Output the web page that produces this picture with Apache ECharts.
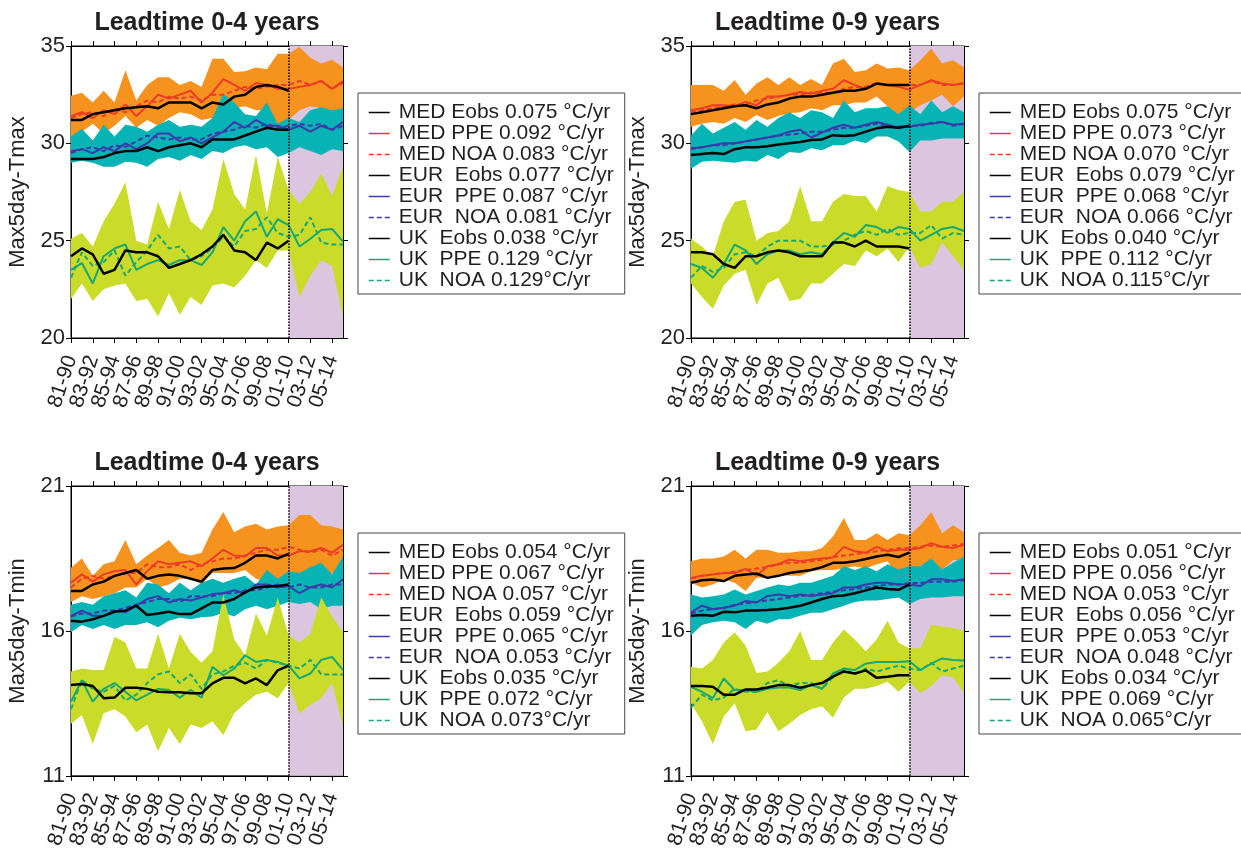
<!DOCTYPE html>
<html>
<head>
<meta charset="utf-8">
<script src="https://cdn.jsdelivr.net/npm/echarts@6/dist/echarts.min.js"></script>
<style>
  html, body { margin: 0; padding: 0; background: #ffffff; }
  #chart { width: 1241px; height: 851px; }
</style>
</head>
<body>
<div id="chart"></div>
<script>
// Decadal windows (start year - end year)
const years = ['81-90','82-91','83-92','84-93','85-94','86-95','87-96','88-97','89-98','90-99',
               '91-00','92-01','93-02','94-03','95-04','96-05','97-06','98-07','99-08','00-09',
               '01-10','02-11','03-12','04-13','05-14','06-15'];

// ---- Max5day-Tmax, leadtime 0-4 years ----
const tmax04MedLo  = [30.2,30.6,31.0,30.5,30.9,31.4,30.8,31.2,30.9,31.3,31.6,31.5,31.2,31.3,31.0,31.8,31.9,31.7,31.7,30.5,31.2,31.7,31.9,31.8,31.5,31.7];
const tmax04MedHi  = [32.45,32.6,32.1,32.7,32.1,33.75,32.2,33.0,33.4,33.4,33.0,33.2,32.9,34.35,34.35,33.67,33.7,33.9,33.8,34.6,34.6,34.95,34.4,34.1,34.3,33.9];
const tmax04MedPpe = [31.4,31.6,31.3,31.7,31.5,32.0,31.4,31.9,32.5,32.3,32.5,32.7,32.1,32.6,33.3,33.0,32.7,33.1,33.0,32.8,32.8,32.9,33.0,33.2,32.8,33.2];
const tmax04MedNoa = [31.3,31.5,31.6,31.4,31.8,31.6,31.9,32.2,32.1,32.4,32.3,32.4,32.2,32.5,32.5,32.7,32.9,32.8,32.9,33.0,33.0,33.2,33.0,33.2,32.8,33.1];
const tmax04MedObs = [31.2,31.2,31.5,31.6,31.7,31.8,31.85,31.9,31.8,32.1,32.1,32.1,31.8,32.1,32.0,32.4,32.5,32.9,33.0,32.9,32.7];
const tmax04EurLo  = [29.0,29.1,29.0,28.8,28.8,29.05,29.0,28.8,29.2,29.3,29.1,29.4,29.2,29.6,29.5,29.8,29.9,29.7,29.8,29.3,29.5,29.8,29.6,29.4,29.7,29.6];
const tmax04EurHi  = [30.35,30.75,30.15,30.95,30.35,30.95,30.85,30.6,30.95,31.2,30.85,30.95,30.85,31.3,32.55,32.1,31.5,31.4,32.1,31.0,31.3,31.1,31.7,31.85,31.7,31.8];
const tmax04EurPpe = [29.6,29.7,29.5,29.8,29.6,30.0,29.7,30.0,30.5,30.5,30.1,30.3,30.0,30.3,30.6,31.1,30.8,31.2,30.9,30.9,30.7,30.9,30.6,30.9,30.7,31.1];
const tmax04EurNoa = [29.5,29.7,29.8,29.6,29.9,29.8,30.1,30.4,30.3,30.2,30.3,30.2,30.2,30.5,30.6,30.7,30.9,30.8,31.0,30.8,30.9,31.0,30.9,31.0,30.7,30.9];
const tmax04EurObs = [29.2,29.2,29.2,29.3,29.5,29.6,29.6,29.8,29.6,29.8,29.9,30.0,29.8,30.2,30.2,30.2,30.4,30.6,30.8,30.7,30.7];
const tmax04UkLo   = [22.0,22.8,21.9,22.5,22.7,22.8,21.9,22.0,21.1,22.3,21.2,22.1,21.7,22.7,22.8,22.6,23.2,24.0,23.6,24.5,24.5,22.1,23.2,24.0,23.7,21.1];
const tmax04UkHi   = [25.1,25.4,24.7,26.0,26.9,28.0,25.0,24.8,27.0,25.6,27.6,26.0,25.55,26.6,29.2,27.4,26.6,29.4,26.4,29.3,27.6,26.9,27.5,28.45,27.3,28.8];
const tmax04UkPpe  = [23.5,23.85,22.8,24.2,24.6,24.8,23.5,23.8,24.0,23.75,24.0,24.0,23.75,24.4,25.7,25.0,26.0,26.5,25.2,26.1,25.8,24.7,25.1,25.55,25.6,24.95];
const tmax04UkNoa  = [23.1,24.4,23.7,23.9,24.5,23.2,23.9,24.5,25.3,24.6,24.7,24.0,24.2,24.6,25.2,24.7,25.5,25.6,26.2,25.4,25.2,25.3,26.2,24.9,24.8,24.8];
const tmax04UkObs  = [24.2,24.6,24.3,23.3,23.5,24.5,24.4,24.4,24.2,23.6,23.8,24.0,24.3,24.7,25.3,24.5,24.4,24.0,24.9,24.6,25.0];
const tmax04Trends = ['MED Eobs 0.075 °C/yr','MED PPE 0.092 °C/yr','MED NOA 0.083 °C/yr',
                      'EUR  Eobs 0.077 °C/yr','EUR  PPE 0.087 °C/yr','EUR  NOA 0.081 °C/yr',
                      'UK  Eobs 0.038 °C/yr','UK  PPE 0.129 °C/yr','UK  NOA 0.129°C/yr'];

// ---- Max5day-Tmax, leadtime 0-9 years ----
const tmax09MedLo  = [30.85,31.0,31.1,31.0,31.3,31.1,31.45,31.2,31.4,31.55,31.6,31.8,31.7,31.96,31.96,32.1,32.1,32.4,31.9,31.2,31.6,31.96,32.2,32.5,31.9,32.4];
const tmax09MedHi  = [33.0,33.0,33.0,32.7,33.25,32.5,33.07,33.4,33.0,33.4,33.0,33.3,33.0,34.1,34.35,33.67,33.75,34.1,33.85,33.9,33.75,34.27,34.86,34.1,34.27,33.9];
const tmax09MedPpe = [31.7,31.8,31.96,31.96,31.9,32.13,31.96,32.4,32.4,32.5,32.64,32.55,32.7,32.8,33.24,33.0,32.8,33.07,33.0,32.9,32.76,33.0,33.24,33.07,33.0,33.07];
const tmax09MedNoa = [31.6,31.7,31.8,31.9,32.0,32.0,32.2,32.3,32.4,32.5,32.5,32.6,32.6,32.6,32.8,32.9,32.9,33.1,33.0,33.0,33.0,33.0,33.2,33.0,33.0,33.1];
const tmax09MedObs = [31.5,31.6,31.7,31.8,31.9,31.96,31.8,32.0,32.1,32.3,32.4,32.4,32.5,32.6,32.7,32.7,32.8,33.07,33.0,33.0,33.0];
const tmax09EurLo  = [28.7,29.05,29.1,29.05,29.0,29.1,29.05,29.4,29.2,29.55,29.5,29.75,29.65,29.9,29.9,30.15,30.0,30.35,30.35,30.1,29.55,30.15,30.15,30.25,30.25,30.25];
const tmax09EurHi  = [30.4,31.0,30.5,30.8,31.1,30.7,31.2,30.85,31.3,31.6,31.3,31.7,31.6,31.3,32.2,31.6,31.8,31.8,31.9,31.5,31.96,31.5,32.2,31.6,31.9,31.6];
const tmax09EurPpe = [29.75,29.8,29.9,30.0,30.0,30.1,30.2,30.3,30.4,30.6,30.7,30.3,30.55,30.8,30.95,30.8,30.95,31.1,30.95,30.8,30.85,30.95,31.0,31.1,30.95,31.0];
const tmax09EurNoa = [29.7,29.8,29.9,29.9,30.0,30.1,30.2,30.3,30.4,30.45,30.5,30.6,30.6,30.7,30.8,30.8,30.9,31.0,30.9,30.85,30.9,30.9,31.05,31.1,30.9,31.0];
const tmax09EurObs = [29.4,29.45,29.5,29.45,29.7,29.8,29.8,29.85,29.94,30.0,30.07,30.17,30.2,30.42,30.38,30.42,30.6,30.77,30.85,30.8,30.9];
const tmax09UkLo   = [22.8,22.1,21.5,22.7,23.3,23.5,21.7,22.8,23.1,21.9,22.0,22.8,22.8,23.3,23.8,23.7,24.5,24.2,24.6,23.9,24.7,23.6,23.8,24.9,24.2,23.5];
const tmax09UkHi   = [25.1,24.7,24.2,26.0,27.0,27.1,25.0,25.4,25.5,26.0,27.8,26.0,26.0,27.0,27.4,27.3,27.3,26.5,27.8,27.6,27.5,26.5,26.5,27.0,27.0,27.5];
const tmax09UkPpe  = [23.8,23.6,23.1,23.8,24.8,24.5,23.8,24.3,24.5,24.5,24.3,24.4,24.3,24.9,25.4,25.2,25.8,25.7,25.4,25.7,25.6,25.0,25.3,25.6,25.7,25.5];
const tmax09UkNoa  = [23.1,23.7,23.4,23.6,24.3,24.4,24.2,24.7,25.0,25.0,25.0,24.7,24.7,24.8,25.0,25.3,25.5,25.3,25.6,25.3,25.4,25.4,25.8,25.1,25.4,25.3];
const tmax09UkObs  = [24.4,24.4,24.3,23.8,23.6,24.2,24.2,24.4,24.5,24.4,24.2,24.2,24.2,24.9,24.9,24.7,25.0,24.7,24.7,24.7,24.6];
const tmax09Trends = ['MED Eobs 0.075 °C/yr','MED PPE 0.073 °C/yr','MED NOA 0.070 °C/yr',
                      'EUR  Eobs 0.079 °C/yr','EUR  PPE 0.068 °C/yr','EUR  NOA 0.066 °C/yr',
                      'UK  Eobs 0.040 °C/yr','UK  PPE 0.112 °C/yr','UK  NOA 0.115°C/yr'];

// ---- Max5day-Tmin, leadtime 0-4 years ----
const tmin04MedLo  = [17.0,17.2,17.1,17.2,17.3,17.5,17.5,17.8,17.5,17.6,17.8,17.8,17.6,18.0,18.0,18.0,18.1,17.8,17.7,17.6,17.9,18.0,18.0,17.9,18.0,18.1];
const tmin04MedHi  = [18.18,18.5,17.9,18.3,18.4,19.14,18.3,18.6,18.86,19.14,18.7,18.6,18.7,19.5,20.1,19.4,19.6,19.7,19.5,19.6,19.65,20.0,20.0,19.65,19.6,19.5];
const tmin04MedPpe = [17.66,17.95,17.7,17.95,18.06,18.1,17.6,18.06,18.4,18.3,18.35,18.4,18.23,18.5,18.8,18.6,18.57,18.86,18.86,18.6,18.6,18.75,18.75,18.86,18.7,18.97];
const tmin04MedNoa = [17.5,17.8,17.9,17.8,17.9,18.0,18.0,18.3,18.2,18.2,18.3,18.1,18.3,18.4,18.5,18.5,18.6,18.7,18.8,18.8,18.9,18.8,18.7,18.8,18.6,18.8];
const tmin04MedObs = [17.38,17.38,17.6,17.7,17.9,18.0,18.1,17.8,17.9,17.95,17.9,17.8,17.7,18.1,18.15,18.17,18.35,18.6,18.6,18.5,18.66];
const tmin04EurLo  = [15.95,16.2,16.07,16.2,16.07,16.2,16.2,16.3,16.13,16.35,16.45,16.4,16.47,16.5,16.63,16.5,16.75,16.87,16.75,16.87,17.0,16.93,17.0,16.75,16.87,16.87];
const tmin04EurHi  = [16.9,17.0,16.9,17.2,17.3,17.4,17.15,17.66,17.6,17.3,17.66,17.4,17.66,17.8,17.66,17.8,17.9,17.6,18.1,17.8,18.06,18.0,18.2,18.35,17.95,18.57];
const tmin04EurPpe = [16.52,16.7,16.52,16.52,16.7,16.64,16.87,17.1,17.2,16.98,17.1,17.05,17.15,17.27,17.3,17.4,17.3,17.6,17.6,17.5,17.55,17.3,17.5,17.6,17.5,17.78];
const tmin04EurNoa = [16.5,16.6,16.6,16.7,16.7,16.8,16.9,17.0,17.1,17.1,17.0,17.2,17.2,17.2,17.3,17.3,17.4,17.4,17.5,17.6,17.5,17.6,17.5,17.5,17.6,17.6];
const tmin04EurObs = [16.35,16.32,16.4,16.52,16.66,16.7,16.87,16.55,16.6,16.66,16.58,16.58,16.78,16.98,16.98,17.1,17.33,17.5,17.53,17.55,17.6];
const tmin04UkLo   = [12.8,13.1,12.1,13.16,13.3,13.05,12.5,12.77,11.85,12.65,12.1,12.77,12.65,12.88,12.4,13.16,13.5,13.8,13.9,13.68,14.2,13.16,13.45,13.68,14.2,12.7];
const tmin04UkHi   = [14.6,14.7,14.65,14.65,15.8,15.6,14.7,14.7,15.9,14.7,15.9,15.27,14.9,15.3,17.26,15.7,15.16,16.6,15.84,17.15,15.84,15.6,15.9,17.15,16.5,15.95];
const tmin04UkPpe  = [13.56,14.3,13.56,14.0,14.2,13.9,13.6,13.8,14.0,13.96,13.7,13.96,13.7,14.76,14.47,14.7,15.16,14.93,15.0,14.93,14.8,14.36,14.53,15.0,15.1,14.65];
const tmin04UkNoa  = [13.3,14.3,14.0,13.9,14.1,13.6,13.8,14.2,14.5,14.6,14.2,14.5,14.0,14.5,14.6,14.8,14.9,14.7,15.0,14.9,14.8,14.7,15.0,14.5,14.5,14.5];
const tmin04UkObs  = [14.13,14.17,14.1,13.68,13.7,14.04,14.04,14.0,13.9,13.88,13.88,13.85,13.85,14.19,14.38,14.38,14.19,14.36,14.13,14.64,14.8];
const tmin04Trends = ['MED Eobs 0.054 °C/yr','MED PPE 0.067 °C/yr','MED NOA 0.057 °C/yr',
                      'EUR  Eobs 0.059 °C/yr','EUR  PPE 0.065 °C/yr','EUR  NOA 0.053 °C/yr',
                      'UK  Eobs 0.035 °C/yr','UK  PPE 0.072 °C/yr','UK  NOA 0.073°C/yr'];

// ---- Max5day-Tmin, leadtime 0-9 years ----
const tmin09MedLo  = [17.66,17.5,17.6,17.78,17.66,17.38,17.83,17.83,17.95,17.9,17.9,18.06,18.1,18.1,18.15,18.23,18.15,18.3,18.4,17.78,18.1,18.23,18.4,18.1,18.45,18.45];
const tmin09MedHi  = [18.4,18.5,18.5,18.57,18.8,18.5,18.8,18.8,18.7,18.7,18.75,18.75,18.86,19.26,19.9,19.14,19.14,19.37,19.14,19.37,19.3,19.65,20.1,19.37,19.65,19.4];
const tmin09MedPpe = [17.83,17.9,17.95,18.0,18.0,18.14,17.9,18.23,18.3,18.46,18.4,18.46,18.5,18.53,18.9,18.75,18.7,18.9,18.75,18.8,18.8,18.86,19.03,18.9,18.86,18.97];
const tmin09MedNoa = [17.8,17.9,17.95,18.0,18.05,18.1,18.15,18.2,18.3,18.35,18.35,18.4,18.45,18.55,18.6,18.65,18.7,18.75,18.8,18.85,18.85,18.9,18.95,18.9,18.95,19.0];
const tmin09MedObs = [17.66,17.75,17.77,17.72,17.9,17.95,17.98,17.83,17.9,18.0,18.05,18.1,18.2,18.35,18.35,18.4,18.48,18.57,18.63,18.55,18.7];
const tmin09EurLo  = [15.84,16.2,16.3,16.35,16.3,16.07,16.35,16.25,16.4,16.4,16.52,16.63,16.63,16.75,16.87,17.0,17.05,17.05,17.1,17.15,16.93,17.1,17.15,17.15,17.2,17.2];
const tmin09EurHi  = [17.26,17.15,17.2,17.26,17.43,17.26,17.38,17.5,17.6,17.55,17.66,17.66,17.78,17.9,18.23,18.1,18.23,18.06,18.3,18.12,18.23,18.23,18.5,18.12,18.35,18.57];
const tmin09EurPpe = [16.64,16.87,16.75,16.8,16.87,17.03,16.98,17.2,17.26,17.2,17.26,17.2,17.26,17.3,17.5,17.5,17.6,17.66,17.66,17.6,17.6,17.55,17.78,17.78,17.72,17.78];
const tmin09EurNoa = [16.6,16.7,16.75,16.8,16.9,16.95,17.0,17.05,17.1,17.15,17.2,17.25,17.3,17.35,17.4,17.45,17.5,17.55,17.6,17.6,17.65,17.65,17.7,17.7,17.7,17.75];
const tmin09EurObs = [16.52,16.55,16.52,16.66,16.64,16.7,16.7,16.72,16.75,16.8,16.87,16.98,17.1,17.2,17.22,17.3,17.4,17.5,17.45,17.42,17.6];
const tmin09UkLo   = [13.5,12.88,12.1,13.05,13.5,12.54,12.6,13.2,12.54,12.8,13.1,13.3,13.4,13.0,13.7,14.0,14.0,14.1,14.25,13.9,14.25,13.85,14.1,14.47,14.4,13.85];
const tmin09UkHi   = [14.76,14.7,15.0,15.6,15.95,15.5,14.55,14.6,14.9,15.3,16.0,15.0,15.0,15.6,16.05,15.7,15.3,15.7,16.35,15.6,15.4,15.4,16.2,16.15,16.1,16.0];
const tmin09UkPpe  = [14.07,13.9,13.68,14.36,13.96,13.96,13.9,14.0,14.05,14.05,13.96,14.13,14.0,14.53,14.7,14.65,14.87,14.93,14.93,14.93,14.95,14.65,14.87,15.05,15.0,14.98];
const tmin09UkNoa  = [13.35,13.8,13.6,13.7,14.0,13.9,13.9,14.2,14.3,14.1,14.2,14.2,14.0,14.4,14.7,14.5,14.7,14.6,14.7,14.8,14.7,14.65,14.9,14.6,14.7,14.8];
const tmin09UkObs  = [14.1,14.1,14.07,13.8,13.8,13.98,13.98,14.05,14.13,14.13,14.04,14.13,14.2,14.42,14.6,14.53,14.64,14.38,14.42,14.47,14.47];
const tmin09Trends = ['MED Eobs 0.051 °C/yr','MED PPE 0.056 °C/yr','MED NOA 0.053 °C/yr',
                      'EUR  Eobs 0.056 °C/yr','EUR  PPE 0.053 °C/yr','EUR  NOA 0.048 °C/yr',
                      'UK  Eobs 0.034 °C/yr','UK  PPE 0.069 °C/yr','UK  NOA 0.065°C/yr'];

// Axis ticks for each variable
const tmaxTicks = [20, 25, 30, 35];
const tminTicks = [11, 16, 21];

// ---------------- styling ----------------
const FONT = 'Liberation Sans';
const INK = '#231f20';
const regionStyle = {
  MED: { band: '#f6931f', line: '#ee3b26' },
  EUR: { band: '#07b4b5', line: '#3c3aab' },
  UK:  { band: '#cbdb2a', line: '#16a970' }
};
const forecastShade = '#dcc5df';

const panels = [
  { title: 'Leadtime 0-4 years', yName: 'Max5day-Tmax', grid: { left: 71,  top: 46,  width: 272, height: 292 },
    yMin: 20, yMax: 35, ticks: tmaxTicks, legend: { left: 358, top: 93 }, trends: tmax04Trends,
    regions: [
      ['MED', tmax04MedLo, tmax04MedHi, tmax04MedPpe, tmax04MedNoa, tmax04MedObs],
      ['EUR', tmax04EurLo, tmax04EurHi, tmax04EurPpe, tmax04EurNoa, tmax04EurObs],
      ['UK',  tmax04UkLo,  tmax04UkHi,  tmax04UkPpe,  tmax04UkNoa,  tmax04UkObs]
    ] },
  { title: 'Leadtime 0-9 years', yName: 'Max5day-Tmax', grid: { left: 691, top: 46,  width: 273, height: 292 },
    yMin: 20, yMax: 35, ticks: tmaxTicks, legend: { left: 979, top: 93 }, trends: tmax09Trends,
    regions: [
      ['MED', tmax09MedLo, tmax09MedHi, tmax09MedPpe, tmax09MedNoa, tmax09MedObs],
      ['EUR', tmax09EurLo, tmax09EurHi, tmax09EurPpe, tmax09EurNoa, tmax09EurObs],
      ['UK',  tmax09UkLo,  tmax09UkHi,  tmax09UkPpe,  tmax09UkNoa,  tmax09UkObs]
    ] },
  { title: 'Leadtime 0-4 years', yName: 'Max5day-Tmin', grid: { left: 71,  top: 486, width: 272, height: 292 },
    yMin: 11, yMax: 21, ticks: tminTicks, legend: { left: 358, top: 533 }, trends: tmin04Trends,
    regions: [
      ['MED', tmin04MedLo, tmin04MedHi, tmin04MedPpe, tmin04MedNoa, tmin04MedObs],
      ['EUR', tmin04EurLo, tmin04EurHi, tmin04EurPpe, tmin04EurNoa, tmin04EurObs],
      ['UK',  tmin04UkLo,  tmin04UkHi,  tmin04UkPpe,  tmin04UkNoa,  tmin04UkObs]
    ] },
  { title: 'Leadtime 0-9 years', yName: 'Max5day-Tmin', grid: { left: 691, top: 486, width: 273, height: 292 },
    yMin: 11, yMax: 21, ticks: tminTicks, legend: { left: 979, top: 533 }, trends: tmin09Trends,
    regions: [
      ['MED', tmin09MedLo, tmin09MedHi, tmin09MedPpe, tmin09MedNoa, tmin09MedObs],
      ['EUR', tmin09EurLo, tmin09EurHi, tmin09EurPpe, tmin09EurNoa, tmin09EurObs],
      ['UK',  tmin09UkLo,  tmin09UkHi,  tmin09UkPpe,  tmin09UkNoa,  tmin09UkObs]
    ] }
];

const option = {
  animation: false,
  backgroundColor: '#ffffff',
  textStyle: { fontFamily: FONT, color: INK },
  title: [], grid: [], xAxis: [], yAxis: [], legend: [], series: []
};

// a tick (and label) on every second window
const everyOther = (i) => i % 2 === 0;

panels.forEach((p, k) => {
  const g = p.grid;
  option.grid.push({ left: g.left, top: g.top, width: g.width, height: g.height,
                     show: true, borderColor: '#000', borderWidth: 1, containLabel: false });

  option.title.push({
    text: p.title, left: g.left + g.width / 2, top: g.top - 35, textAlign: 'center', padding: 0,
    textStyle: { fontFamily: FONT, fontSize: 25, fontWeight: 'bold', color: INK }
  });

  const tick = { show: true, interval: everyOther, length: 5, lineStyle: { color: '#000', width: 1 } };
  // bottom axis with rotated window labels, top axis with ticks only
  option.xAxis.push({
    gridIndex: k, type: 'category', data: years, boundaryGap: false, position: 'bottom',
    axisLine: { lineStyle: { color: '#000', width: 1 } }, axisTick: tick,
    axisLabel: { interval: 0, rotate: 72, fontSize: 21, margin: 18, color: INK, fontFamily: FONT,
                 formatter: (v, i) => (everyOther(i) ? v : ''),
                 showMinLabel: true, showMaxLabel: false, hideOverlap: false },
    splitLine: { show: false }
  });
  option.xAxis.push({
    gridIndex: k, type: 'category', data: years, boundaryGap: false, position: 'top',
    axisLine: { lineStyle: { color: '#000', width: 1 } }, axisTick: tick,
    axisLabel: { show: false }, splitLine: { show: false }
  });
  option.yAxis.push({
    gridIndex: k, type: 'value', min: p.yMin, max: p.yMax, position: 'left',
    name: p.yName, nameLocation: 'middle', nameGap: 42,
    nameTextStyle: { fontSize: 22, color: INK, fontFamily: FONT },
    axisLine: { show: true, lineStyle: { color: '#000', width: 1 } },
    axisTick: { show: true, length: 5, customValues: p.ticks, lineStyle: { color: '#000' } },
    axisLabel: { customValues: p.ticks, fontSize: 22, margin: 6, color: INK, fontFamily: FONT },
    splitLine: { show: false }
  });
  option.yAxis.push({
    gridIndex: k, type: 'value', min: p.yMin, max: p.yMax, position: 'right',
    axisLine: { show: true, lineStyle: { color: '#000', width: 1 } },
    axisTick: { show: true, length: 5, customValues: p.ticks, lineStyle: { color: '#000' } },
    axisLabel: { show: false }, splitLine: { show: false }
  });

  const xi = 2 * k, yi = 2 * k;

  // ensemble spread bands: lower edge (invisible) + stacked width
  p.regions.forEach(([reg, lo, hi], r) => {
    const stack = 'band' + k + reg;
    const lower = {
      name: 'p' + k + reg + 'lower', type: 'line', xAxisIndex: xi, yAxisIndex: yi,
      data: lo, stack: stack, symbol: 'none', silent: true, z: 1,
      lineStyle: { opacity: 0 }
    };
    if (r === 0) {
      // forecast period shading
      lower.markArea = {
        silent: true,
        itemStyle: { color: forecastShade, opacity: 1 },
        data: [[{ xAxis: '01-10' }, { xAxis: '06-15' }]]
      };
    }
    option.series.push(lower);
    option.series.push({
      name: 'p' + k + reg + 'spread', type: 'line', xAxisIndex: xi, yAxisIndex: yi,
      data: hi.map((v, i) => +(v - lo[i]).toFixed(3)), stack: stack, symbol: 'none', silent: true,
      z: 2, lineStyle: { opacity: 0 }, areaStyle: { color: regionStyle[reg].band, opacity: 1 }
    });
  });

  // model means and observations
  p.regions.forEach(([reg, lo, hi, ppe, noa, obs], r) => {
    const c = regionStyle[reg].line;
    option.series.push({
      name: p.trends[3 * r + 2], type: 'line', xAxisIndex: xi, yAxisIndex: yi, data: noa,
      symbol: 'none', z: 3, lineStyle: { color: c, width: 2, type: [5, 3] }, itemStyle: { color: c }
    });
    option.series.push({
      name: p.trends[3 * r + 1], type: 'line', xAxisIndex: xi, yAxisIndex: yi, data: ppe,
      symbol: 'none', z: 3, lineStyle: { color: c, width: 2 }, itemStyle: { color: c }
    });
    const obsSeries = {
      name: p.trends[3 * r], type: 'line', xAxisIndex: xi, yAxisIndex: yi, data: obs,
      symbol: 'none', z: 4, lineStyle: { color: '#000', width: 2.5 }, itemStyle: { color: '#000' }
    };
    if (r === 0) {
      obsSeries.markLine = {
        silent: true, symbol: ['none', 'none'], label: { show: false },
        lineStyle: { color: '#000', type: [1.5, 1.5], width: 1.5 },
        data: [{ xAxis: '01-10' }]
      };
    }
    option.series.push(obsSeries);
  });

  option.legend.push({
    data: p.trends, orient: 'vertical', left: p.legend.left, top: p.legend.top,
    selectedMode: false, itemWidth: 21, itemHeight: 12, itemGap: 0,
    padding: [9, 11, 3, 10], borderColor: '#444', borderWidth: 1, backgroundColor: '#fff',
    itemStyle: { opacity: 0 },
    lineStyle: { width: 1.5 },
    textStyle: { fontFamily: FONT, fontSize: 21, color: INK, lineHeight: 19.75, padding: [0, 0, 0, 4] }
  });
});

const chart = echarts.init(document.getElementById('chart'), null, { renderer: 'canvas' });
chart.setOption(option);
</script>
</body>
</html>
